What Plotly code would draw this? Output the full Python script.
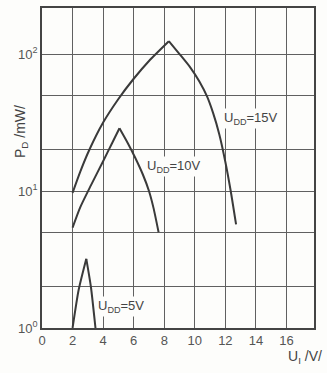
import plotly.graph_objects as go

# Data
u15 = [2.0, 2.5, 3.1, 4.0, 5.0, 6.0, 7.0, 8.3, 9.0, 9.7, 10.3, 10.8, 11.2, 11.6, 12.0, 12.35, 12.7]
p15 = [9.7, 13.8, 20, 31.6, 47, 66, 89, 124, 100, 80, 63, 49, 37, 26, 16.3, 10, 5.7]

u10 = [2.0, 2.5, 3.2, 4.0, 4.6, 5.07, 5.6, 6.1, 6.6, 7.0, 7.3, 7.63]
p10 = [5.4, 7.6, 11.0, 16.5, 22.5, 28.7, 22.5, 17.5, 13.2, 10.0, 7.5, 5.0]

u5 = [2.0, 2.4, 2.9, 3.2, 3.5]
p5 = [1.0, 1.9, 3.2, 2.0, 1.0]

x_ticks = [0, 2, 4, 6, 8, 10, 12, 14, 16]
y_grid = [1, 2, 5, 10, 20, 50, 100]
y_text = ["10<sup>0</sup>", "", "", "10<sup>1</sup>", "", "", "10<sup>2</sup>"]

labels = ["U<sub>DD</sub>=15V", "U<sub>DD</sub>=10V", "U<sub>DD</sub>=5V"]

ink = "#3a3a3a"
BG = "#fdfdfb"
FONT = "Liberation Sans"

fig = go.Figure()
for u, p in [(u15, p15), (u10, p10), (u5, p5)]:
    k = p.index(max(p))
    # rising and falling flanks drawn separately so the peak stays sharp
    for xs, ys in [(u[:k + 1], p[:k + 1]), (u[k:], p[k:])]:
        fig.add_trace(go.Scatter(x=xs, y=ys, mode="lines",
                                 line=dict(color=ink, width=2, shape="spline",
                                           smoothing=0.6),
                                 showlegend=False, hoverinfo="skip"))

fig.update_layout(
    width=327, height=373,
    margin=dict(l=42, r=13, t=8, b=45),
    paper_bgcolor=BG, plot_bgcolor=BG,
    font=dict(family=FONT, color="#444", size=13),
    xaxis=dict(range=[0, 17.8], tickvals=x_ticks, showgrid=True, automargin=False,
               gridcolor="#606060", gridwidth=1, zeroline=False,
               showline=True, linecolor="#444", linewidth=1.5, mirror=True,
               ticks="", tickfont=dict(size=13, color="#555")),
    yaxis=dict(type="log", range=[0, 2.336], tickvals=y_grid, ticktext=y_text,
               showgrid=True, gridcolor="#606060", gridwidth=1, zeroline=False,
               automargin=False,
               showline=True, linecolor="#444", linewidth=1.5, mirror=True,
               ticks="", tickfont=dict(size=13, color="#555")),
)

pos = [(11.8, 1.533), (6.75, 1.18), (3.54, 0.16)]
for (x, y), t in zip(pos, labels):
    fig.add_annotation(x=x, y=y, xref="x", yref="y", text=t, showarrow=False,
                       xanchor="left", yanchor="middle", bgcolor=BG,
                       font=dict(size=13, color="#444", family=FONT))

fig.add_annotation(x=-0.077, y=0.6125, xref="paper", yref="paper",
                   text="P<sub>D</sub> /mW/", textangle=-90, showarrow=False,
                   xanchor="center", yanchor="middle",
                   font=dict(size=14, color="#444", family=FONT))
fig.add_annotation(x=0.967, y=-0.09, xref="paper", yref="paper",
                   text="U<sub>I</sub> /V/", showarrow=False,
                   xanchor="center", yanchor="middle",
                   font=dict(size=14, color="#444", family=FONT))

fig.write_html("out.html", config={"displayModeBar": False},
               post_script="document.body.style.margin='0';"
                           "document.body.style.overflow='hidden';")
